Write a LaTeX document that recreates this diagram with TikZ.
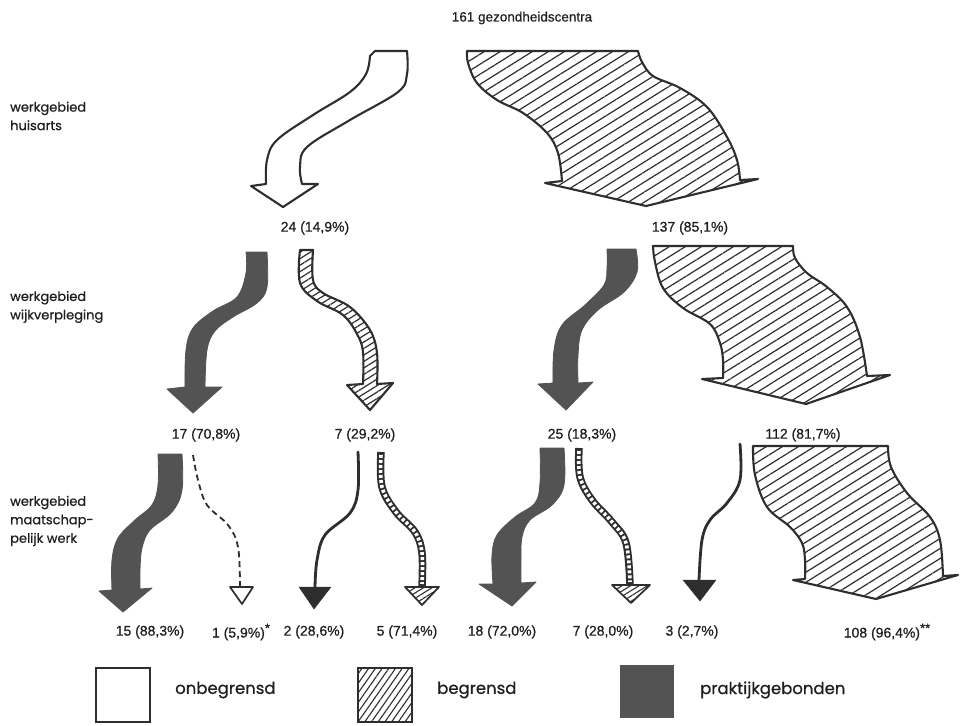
\documentclass[tikz,border=0pt]{standalone}
\usepackage{fontspec}
\setmainfont[FakeBold=0.5]{Liberation Sans}
\newfontfamily\geo[FakeBold=0.6]{Poppins}
\usetikzlibrary{patterns.meta}
\definecolor{ink}{HTML}{2E2E2E}
\definecolor{txt}{HTML}{1E1E1E}
\definecolor{darkfill}{HTML}{535353}
\tikzset{
  outl/.style={draw=ink, line width=2.1pt, line join=round},
  hatchbig/.style={outl, pattern={Lines[angle=32,distance=8.5pt,line width=1.2pt]}, pattern color=ink},
  hatchsmall/.style={outl, pattern={Lines[angle=32,distance=5.5pt,line width=1.2pt]}, pattern color=ink},
  whitearrow/.style={outl, fill=white},
  darkarrow/.style={fill=darkfill, draw=darkfill, line width=0.8pt, line join=round},
  thinline/.style={draw=ink, line width=2.8pt, line cap=round},
  dashline/.style={draw=ink, line width=1.8pt, dash pattern=on 6pt off 4pt},
  chainout/.style={draw=ink, line width=7.5pt},
  chainin/.style={draw=white, line width=3.6pt, dash pattern=on 3pt off 2pt},
  numlab/.style={inner sep=0pt, font=\fontsize{14}{16}\selectfont, text=txt},
  sidelab/.style={inner sep=0pt, anchor=west, align=left, font=\geo\fontsize{13}{18.5}\selectfont, text=txt},
  leglab/.style={inner sep=0pt, anchor=west, font=\geo\fontsize{16.5}{19}\selectfont, text=txt},
}
\newcommand{\sstar}{\raisebox{5pt}{\fontsize{13}{13}\selectfont *}}
\begin{document}
\begin{tikzpicture}[x=1pt,y=-1pt]
\useasboundingbox (0,0) rectangle (960,725);
\fill[white] (0,0) rectangle (960,725);

% title and side labels
\node[numlab, font=\fontsize{13.5}{15}\selectfont] (title) at (522,18) {161 gezondheidscentra};
\node[sidelab] (s1) at (10,116) {werkgebied\\huisarts};
\node[sidelab] (s2) at (10,307) {werkgebied\\wijkverpleging};
\node[sidelab] (s3) at (10,521) {werkgebied\\maatschap-\\pelijk werk};

% ---------- level 1 ----------
\draw[whitearrow] plot[smooth,tension=.6] coordinates {(407,51) (407,74) (398,92) (350,120) (307,147) (300,167) (302,184)}
  -- (318,184) -- (283,207) -- (251,186)
  -- plot[smooth,tension=.6] coordinates {(266,184) (267,160) (277,140) (313,115) (350,92) (366,74) (370,56)}
  -- (375,51) -- cycle;
\draw[hatchbig] plot[smooth,tension=.6] coordinates {(638,51) (642,62) (653,76) (680,88) (707,107) (727,137) (737,160) (740,180)}
  -- (758,179) -- (646,206) -- (545,183)
  -- plot[smooth,tension=.6] coordinates {(562,181) (558,153) (547,133) (523,113) (497,100) (477,83) (468,63) (467,51)}
  -- cycle;

\node[numlab] (n24) at (315,228) {24 (14,9\%)};
\node[numlab] (n137) at (690,228) {137 (85,1\%)};

% ---------- level 2 ----------
\draw[darkarrow] plot[smooth,tension=.6] coordinates {(267,252) (267,287) (257,303) (233,317) (215,331) (207,350) (205,387)}
  -- (222,387) -- (193,413) -- (167,389)
  -- plot[smooth,tension=.6] coordinates {(185,387) (186,350) (193,328) (213,311) (237,297) (246,273) (246,252)}
  -- cycle;
\draw[hatchsmall] plot[smooth,tension=.6] coordinates {(313,250) (313,280) (323,293) (350,307) (370,330) (377,353) (377,384)}
  -- (393,383) -- (370,410) -- (347,385)
  -- plot[smooth,tension=.6] coordinates {(363,384) (363,352) (357,334) (343,315) (317,301) (300,283) (300,250)}
  -- cycle;
\draw[darkarrow] plot[smooth,tension=.6] coordinates {(636,249) (637,272) (624,292) (598,310) (582,330) (578,355) (578,383)}
  -- (593,382) -- (566,410) -- (538,384)
  -- plot[smooth,tension=.6] coordinates {(553,383) (554,350) (562,325) (585,305) (604,285) (607,268) (607,249)}
  -- cycle;
\draw[hatchbig] plot[smooth,tension=.6] coordinates {(793,246) (795,258) (807,273) (827,287) (847,307) (860,337) (867,376)}
  -- (890,375) -- (806,404) -- (702,379)
  -- plot[smooth,tension=.6] coordinates {(723,378) (723,360) (720,343) (710,324) (683,308) (663,288) (655,262) (653,246)}
  -- cycle;

\node[numlab] (n17) at (206,435) {17 (70,8\%)};
\node[numlab] (n7a) at (365,435) {7 (29,2\%)};
\node[numlab] (n25) at (582,435) {25 (18,3\%)};
\node[numlab] (n112) at (803,435) {112 (81,7\%)};

% ---------- level 3 ----------
\draw[darkarrow] plot[smooth,tension=.6] coordinates {(182,454) (182,490) (172,512) (150,530) (142,548) (140,570) (140,589)}
  -- (152,588) -- (123,612) -- (99,591)
  -- plot[smooth,tension=.6] coordinates {(112,590) (112,560) (118,538) (135,520) (152,505) (158,485) (158,454)}
  -- cycle;
\draw[dashline] plot[smooth,tension=.6] coordinates {(193,455) (198,480) (207,505) (228,525) (238,547) (240,586)};
\draw[outl, line width=1.7pt, fill=white] (230,587) -- (253,587) -- (242,604) -- cycle;

\draw[thinline] plot[smooth,tension=.6] coordinates {(358,452) (358,490) (350,513) (325,535) (317,560) (315,587)};
\draw[fill=ink, draw=ink, line join=round] (299,587) -- (331,587) -- (314,609) -- cycle;

\draw[chainout] plot[smooth,tension=.6] coordinates {(381,452) (382,487) (396,512) (415,532) (422,553) (422,587)};
\draw[chainin] plot[smooth,tension=.6] coordinates {(381,455) (382,487) (396,512) (415,532) (422,553) (422,584)};
\draw[hatchsmall, line width=1.7pt, pattern={Lines[angle=32,distance=4.5pt,line width=1.1pt]}] (405,587) -- (439,587) -- (422,605) -- cycle;

\draw[darkarrow] plot[smooth,tension=.6] coordinates {(564,448) (564,485) (552,505) (530,520) (522,537) (521,560) (521,583)}
  -- (536,582) -- (512,606) -- (479,584)
  -- plot[smooth,tension=.6] coordinates {(493,584) (492,555) (497,535) (515,517) (535,503) (540,483) (540,448)}
  -- cycle;

\draw[chainout] plot[smooth,tension=.6] coordinates {(579,448) (580,477) (592,500) (612,522) (626,543) (630,585)};
\draw[chainin] plot[smooth,tension=.6] coordinates {(579,451) (580,477) (592,500) (612,522) (626,543) (630,582)};
\draw[hatchsmall, line width=1.7pt, pattern={Lines[angle=32,distance=4.5pt,line width=1.1pt]}] (612,585) -- (650,585) -- (631,603) -- cycle;

\draw[thinline] plot[smooth,tension=.6] coordinates {(740,444) (740,480) (727,503) (710,520) (702,540) (699,580)};
\draw[fill=ink, draw=ink, line join=round] (683,580) -- (716,580) -- (700,601) -- cycle;

\draw[hatchbig] plot[smooth,tension=.6] coordinates {(888,446) (891,467) (907,493) (930,517) (940,540) (943,576)}
  -- (958,575) -- (876,599) -- (793,580)
  -- plot[smooth,tension=.6] coordinates {(805,579) (805,560) (802,543) (790,527) (767,507) (755,475) (753,446)}
  -- cycle;

\node[numlab] (b15) at (150,632) {15 (88,3\%)};
\node[numlab] (b1) at (241,632) {1 (5,9\%)\sstar};
\node[numlab] (b2) at (314,632) {2 (28,6\%)};
\node[numlab] (b5) at (407,632) {5 (71,4\%)};
\node[numlab] (b18) at (502,632) {18 (72,0\%)};
\node[numlab] (b7) at (603,632) {7 (28,0\%)};
\node[numlab] (b3) at (692,632) {3 (2,7\%)};
\node[numlab] (b108) at (887,632) {108 (96,4\%)\sstar\sstar};

% ---------- legend ----------
\draw[draw=ink, line width=1.7pt] (96,668) rectangle (150,722);
\node[leglab] (l1) at (175,690) {onbegrensd};
\draw[draw=ink, line width=1.7pt, pattern={Lines[angle=55,distance=5.5pt,line width=1.1pt]}, pattern color=ink] (358,668) rectangle (412,722);
\node[leglab] (l2) at (437,690) {begrensd};
\fill[darkfill] (620,665) rectangle (674,718);
\node[leglab] (l3) at (700,690) {praktijkgebonden};
\end{tikzpicture}
\end{document}
